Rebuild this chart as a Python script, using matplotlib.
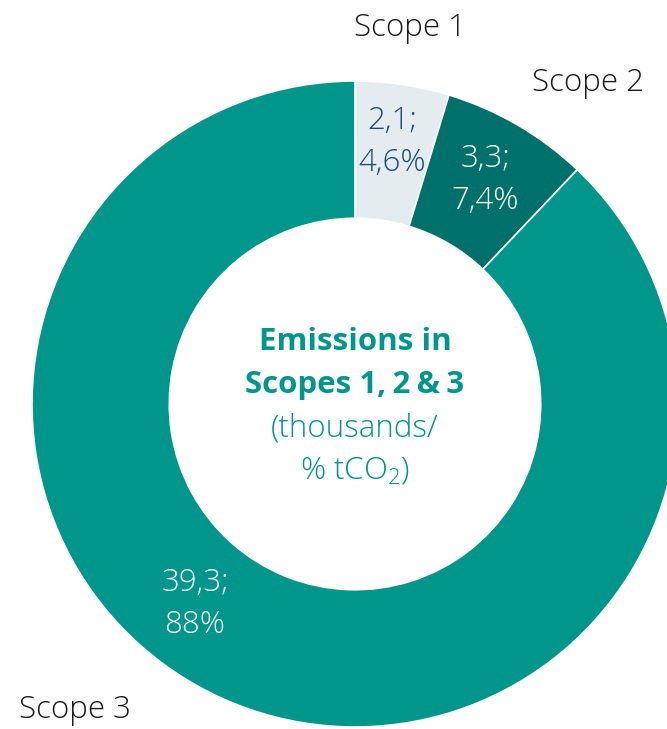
import matplotlib
matplotlib.use("Agg")
from matplotlib import pyplot as plt

# Emissions by scope (thousands tCO2)
scopes = ["Scope 1", "Scope 2", "Scope 3"]
values = [2.1, 3.3, 39.3]
value_labels = ["2,1;\n4,6%", "3,3;\n7,4%", "39,3;\n88%"]
colors = ["#E4ECEF", "#00706A", "#00968B"]
label_colors = ["#1B4F7A", "white", "white"]

plt.rcParams["font.family"] = ["Open Sans", "DejaVu Sans"]
plt.rcParams["mathtext.fontset"] = "custom"
plt.rcParams["mathtext.rm"] = "Open Sans:light"
plt.rcParams["mathtext.it"] = "Open Sans:light"

W, H = 667, 729
fig = plt.figure(figsize=(W / 100, H / 100), dpi=100)
ax = fig.add_axes([0, 0, 1, 1])

cx, cy = 355, H - 404
R = 323
ring = 0.425

wedges, _ = ax.pie(values, colors=colors, startangle=90, counterclock=False,
                   center=(cx, cy), radius=R, frame=True,
                   wedgeprops=dict(width=R * ring, edgecolor="white", linewidth=1.2))
ax.set_xlim(0, W)
ax.set_ylim(0, H)
ax.set_aspect("equal")
ax.axis("off")

fs = 22.5
# value labels inside the ring
label_pos = [(392, 142), (485, 180), (195, 604)]
for (x, y), txt, c in zip(label_pos, value_labels, label_colors):
    ax.text(x, H - y, txt, ha="center", va="center", fontsize=fs,
            color=c, linespacing=1.4, fontweight="light")

# scope names outside the ring
name_pos = [(410, 28), (588, 83), (75, 710)]
for (x, y), txt in zip(name_pos, scopes):
    ax.text(x, H - y, txt, ha="center", va="center", fontsize=fs,
            color="#1a1a1a", fontweight="light")

# title in the hole
teal = "#00968B"
ax.text(cx, H - 342, "Emissions in", ha="center", va="center", fontsize=fs,
        fontweight="bold", color=teal)
ax.text(cx, H - 385, "Scopes 1,\u20092\u2009&\u20093", ha="center", va="center",
        fontsize=fs, fontweight="bold", color=teal)
ax.text(cx, H - 428, "(thousands/", ha="center", va="center", fontsize=fs,
        color=teal, fontweight="light")
ax.text(cx, H - 470, "% tCO$_2$)", ha="center", va="center", fontsize=fs,
        color=teal, fontweight="light")

fig.savefig("out.png", dpi=100)
